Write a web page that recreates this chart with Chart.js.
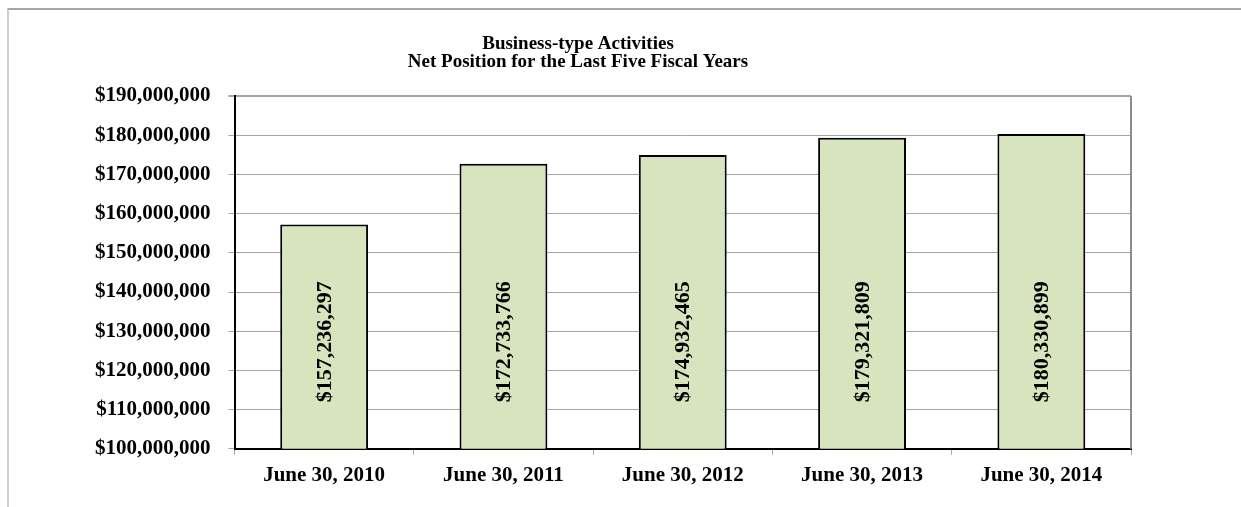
<!DOCTYPE html>
<html lang="en">
<head>
    <meta charset="UTF-8">
    <title>Business-type Activities Net Position</title>
    <script src="https://cdn.jsdelivr.net/npm/chart.js"></script>
    <style>
        html, body { margin: 0; padding: 0; background: #fff; }
        #frame { position: absolute; left: 7px; top: 8px; right: -10px; bottom: -10px;
                 border-top: 2px solid #a6a6a6; border-left: 2px solid #d0d0d0; }
        #wrap { position: absolute; left: 0; top: 0; width: 1241px; height: 507px; }
    </style>
</head>
<body>
    <div id="frame"></div>
    <div id="wrap"><canvas id="net-position-chart" width="1241" height="507"></canvas></div>
    <script>
        // Net position by fiscal year end
        const fiscalYears = ['June 30, 2010', 'June 30, 2011', 'June 30, 2012', 'June 30, 2013', 'June 30, 2014'];
        const netPosition = [157236297, 172733766, 174932465, 179321809, 180330899];
        const titleLines = ['Business-type Activities', 'Net Position for the Last Five Fiscal Years'];
        const yMin = 100000000;
        const yMax = 190000000;
        const yStep = 10000000;

        const serif = "'Liberation Serif', 'Times New Roman', serif";
        const money = v => '$' + Number(v).toLocaleString('en-US');

        // title, right plot border and the rotated value labels
        const extras = {
            id: 'extras',
            afterDatasetsDraw(chart) {
                const c = chart.ctx;
                const area = chart.chartArea;
                c.save();
                c.strokeStyle = '#8c8c8c';
                c.lineWidth = 2;
                c.beginPath();
                c.moveTo(area.right, area.top);
                c.lineTo(area.right, area.bottom);
                c.stroke();

                c.fillStyle = '#000';
                c.font = 'bold 19px ' + serif;
                c.textAlign = 'center';
                c.textBaseline = 'alphabetic';
                c.fillText(titleLines[0], 578, 49);
                c.fillText(titleLines[1], 578, 67);

                c.font = 'bold 22px ' + serif;
                c.textBaseline = 'middle';
                chart.getDatasetMeta(0).data.forEach((bar, i) => {
                    c.save();
                    c.translate(bar.x, area.bottom - 107);
                    c.rotate(-Math.PI / 2);
                    c.fillText(money(netPosition[i]), 0, 1);
                    c.restore();
                });
                c.restore();
            }
        };

        new Chart(document.getElementById('net-position-chart'), {
            type: 'bar',
            data: {
                labels: fiscalYears,
                datasets: [{
                    data: netPosition,
                    backgroundColor: '#d7e4bd',
                    borderColor: '#000',
                    borderWidth: 2,
                    borderSkipped: false,
                    barPercentage: 0.49,
                    categoryPercentage: 1
                }]
            },
            options: {
                responsive: false,
                animation: false,
                layout: { padding: { left: 77, right: 110, top: 96, bottom: 11 } },
                plugins: { legend: { display: false }, tooltip: { enabled: false } },
                scales: {
                    x: {
                        grid: { offset: true, drawOnChartArea: false, tickLength: 6, color: '#a6a6a6' },
                        border: { color: '#000', width: 2 },
                        ticks: { color: '#000', padding: 8, maxRotation: 0, font: { family: serif, size: 21, weight: 'bold' } }
                    },
                    y: {
                        min: yMin,
                        max: yMax,
                        grid: {
                            tickLength: 6,
                            color: '#a6a6a6',
                            lineWidth: ctx => ctx.tick && ctx.tick.value === yMax ? 2 : 1
                        },
                        border: { color: '#000', width: 2 },
                        ticks: {
                            stepSize: yStep,
                            color: '#000',
                            padding: 18,
                            font: { family: serif, size: 21, weight: 'bold' },
                            callback: v => money(v)
                        }
                    }
                }
            },
            plugins: [extras]
        });
    </script>
</body>
</html>
